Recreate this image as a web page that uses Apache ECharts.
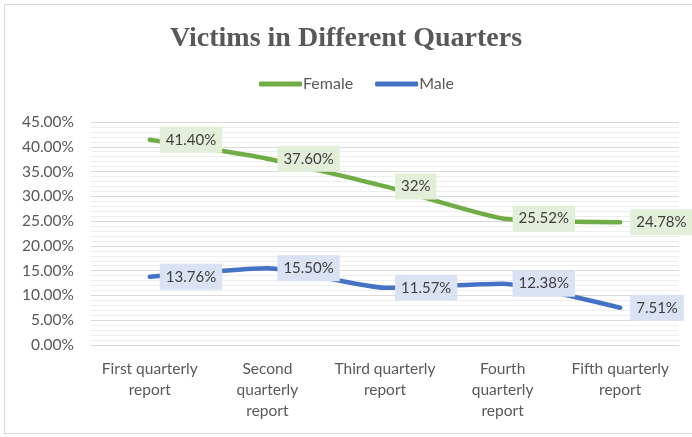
<!DOCTYPE html>
<html>
<head>
<meta charset="utf-8">
<script src="https://cdn.jsdelivr.net/npm/echarts@6/dist/echarts.min.js"></script>
<style>
  html, body { margin: 0; padding: 0; background: #fff; }
  #frame { position: absolute; left: 4px; top: 4px; width: 700px; height: 430px; border: 1px solid #d9d9d9; box-sizing: border-box; }
  #main { position: absolute; left: 0; top: 0; width: 692px; height: 437px; }
</style>
</head>
<body>
<div id="frame"></div>
<div id="main"></div>
<script>
// chart data
var categories = ['First quarterly\nreport', 'Second\nquarterly\nreport', 'Third quarterly\nreport', 'Fourth\nquarterly\nreport', 'Fifth quarterly\nreport']
var female = [41.40, 37.60, 32, 25.52, 24.78]
var male = [13.76, 15.50, 11.57, 12.38, 7.51]
var femaleLabels = ['41.40%', '37.60%', '32%', '25.52%', '24.78%']
var maleLabels = ['13.76%', '15.50%', '11.57%', '12.38%', '7.51%']

var chart = echarts.init(document.getElementById('main'), null, { renderer: 'canvas' })

function labelFor(texts, bg) {
  return {
    show: true,
    position: 'right',
    distance: 9,
    formatter: function (p) { return texts[p.dataIndex] },
    backgroundColor: bg,
    padding: [6, 6, 5, 6],
    color: '#404040',
    fontFamily: 'Lato',
    fontSize: 15
  }
}

function lineSeries(name, data, color, texts, bg) {
  return {
    name: name,
    type: 'line',
    data: data,
    smooth: 0.18,
    symbol: 'circle',
    symbolSize: 2,
    showSymbol: true,
    itemStyle: { color: color },
    color: color,
    lineStyle: { width: 4.5, color: color, cap: 'round' },
    label: labelFor(texts, bg),
    labelLayout: { hideOverlap: false },
    emphasis: { disabled: true }
  }
}

var option = {
  animation: false,
  title: {
    text: 'Victims in Different Quarters',
    left: 'center',
    top: 20,
    textStyle: { fontFamily: 'Liberation Serif', fontWeight: 'bold', fontSize: 28, color: '#595959' }
  },
  legend: {
    top: 71,
    left: 254,
    itemWidth: 43,
    itemHeight: 5,
    itemGap: 22,
    icon: 'roundRect',
    textStyle: { fontFamily: 'Lato', fontSize: 16, color: '#595959', padding: [0, 0, 0, -4] },
    data: ['Female', 'Male']
  },
  grid: { left: 91, right: 13, top: 122, bottom: 92, containLabel: false },
  xAxis: {
    type: 'category',
    data: categories,
    boundaryGap: true,
    axisLine: { show: true, lineStyle: { color: '#d9d9d9' } },
    axisTick: { show: false },
    axisLabel: { color: '#595959', fontFamily: 'Lato', fontSize: 15.5, lineHeight: 21, margin: 13, interval: 0 }
  },
  yAxis: {
    type: 'value',
    min: 0,
    max: 45,
    interval: 5,
    axisLine: { show: false },
    axisTick: { show: false },
    axisLabel: {
      color: '#595959', fontFamily: 'Lato', fontSize: 15.5, margin: 17,
      formatter: function (v) { return v.toFixed(2) + '%' }
    },
    splitLine: { lineStyle: { color: '#d9d9d9' } },
    minorTick: { show: false, splitNumber: 5 },
    minorSplitLine: { show: true, lineStyle: { color: '#eeeeee' } }
  },
  series: [
    lineSeries('Female', female, '#70ad47', femaleLabels, '#e2efd9'),
    lineSeries('Male', male, '#4472c4', maleLabels, '#dae3f3')
  ]
}
chart.setOption(option)
</script>
</body>
</html>
